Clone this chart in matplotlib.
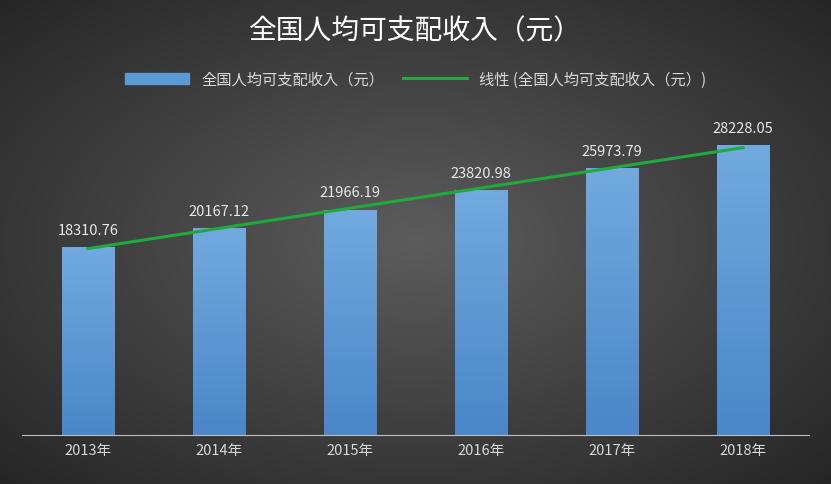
import numpy as np
import matplotlib.pyplot as plt
from matplotlib.colors import LinearSegmentedColormap
from matplotlib.patches import Rectangle
from matplotlib.lines import Line2D

plt.rcParams["font.family"] = ["Noto Sans CJK SC", "Noto Sans CJK JP", "Noto Sans CJK TC",
                               "Noto Sans CJK KR", "DejaVu Sans"]

years = ["2013年", "2014年", "2015年", "2016年", "2017年", "2018年"]
income = [18310.76, 20167.12, 21966.19, 23820.98, 25973.79, 28228.05]

fig = plt.figure(figsize=(8.31, 4.85), dpi=100)

# radial gradient background
bg = fig.add_axes([0, 0, 1, 1])
yy, xx = np.mgrid[-1:1:300j, -1:1:500j]
r = np.sqrt(xx**2 + yy**2) / np.sqrt(2)
bgmap = LinearSegmentedColormap.from_list("bg", ["#5c5c5c", "#262626"])
bg.imshow(r, cmap=bgmap, vmin=0, vmax=1, aspect="auto", extent=[0, 1, 0, 1])
bg.axis("off")

ax = fig.add_axes([0.027, 0.101, 0.946, 0.635])
ax.set_facecolor("none")
x = np.arange(len(years))
bars = ax.bar(x, income, width=0.4, color="none")
grad = np.linspace(0, 1, 256).reshape(-1, 1)
barmap = LinearSegmentedColormap.from_list("g", ["#4a86c8", "#72aadf"])
for b in bars:
    im = ax.imshow(grad, cmap=barmap, origin="lower", aspect="auto",
                   extent=[b.get_x(), b.get_x() + b.get_width(), 0, b.get_height()], zorder=2)
    im.set_clip_path(Rectangle((b.get_x(), 0), b.get_width(), b.get_height(), transform=ax.transData))
    ax.text(b.get_x() + b.get_width() / 2, b.get_height() + 1000, f"{b.get_height():.2f}",
            ha="center", va="bottom", color="#e8e8e8", fontsize=10.5)

k, c = np.polyfit(x, income, 1)
ax.plot(x, k * x + c, color="#1faa3c", lw=2.2, zorder=3)

ax.set_xlim(-0.5, 5.5)
ax.set_ylim(0, 30000)
ax.set_xticks(x)
ax.set_xticklabels(years, color="#d9d9d9", fontsize=10.5)
ax.tick_params(length=0, pad=6)
ax.set_yticks([])
for s in ["top", "left", "right"]:
    ax.spines[s].set_visible(False)
ax.spines["bottom"].set_color("#bfbfbf")

fig.text(0.5, 0.935, "全国人均可支配收入（元）", ha="center", va="center",
         color="white", fontsize=20)
handles = [Rectangle((0, 0), 1, 1, color="#5b9bd5"),
           Line2D([], [], color="#1faa3c", lw=2.2)]
fig.legend(handles, ["全国人均可支配收入（元）", "线性 (全国人均可支配收入（元）)"],
           loc="center", bbox_to_anchor=(0.5, 0.835), ncol=2, frameon=False,
           labelcolor="#d9d9d9", fontsize=11, handlelength=4.2, columnspacing=1.2)

fig.savefig("out.png", dpi=100)
